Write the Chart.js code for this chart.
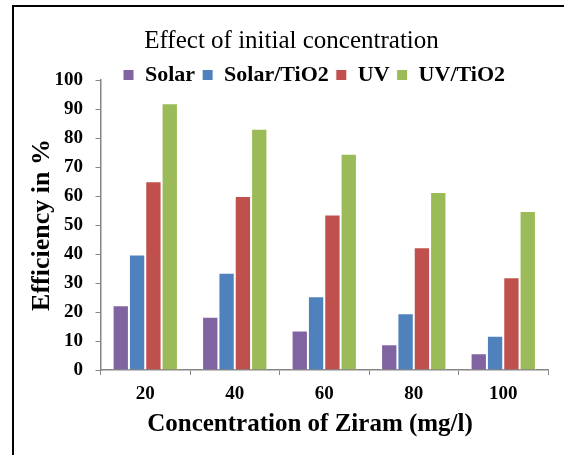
<!DOCTYPE html>
<html>
<head>
<meta charset="utf-8">
<script src="https://cdn.jsdelivr.net/npm/chart.js@4/dist/chart.umd.min.js"></script>
<style>
  html, body { margin: 0; padding: 0; background: #fff; overflow: hidden; }
  #myChart { display: block; }
</style>
</head>
<body>
<canvas id="myChart" width="564" height="455"></canvas>
<script>
// concentration of ziram (mg/l)
const categories = ["20", "40", "60", "80", "100"];
// efficiency in %
const solar = [22.3, 18.4, 13.6, 8.9, 5.8];
const solarTiO2 = [39.8, 33.5, 25.4, 19.6, 11.8];
const uv = [65.1, 60.0, 53.6, 42.3, 32.0];
const uvTiO2 = [92.0, 83.2, 74.6, 61.4, 54.8];

const serif = "'Liberation Serif', 'Times New Roman', serif";
const axisGrey = "#868686";

// move title, legend and x title where the reference has them
const placeHeader = {
    id: "placeHeader",
    afterLayout(chart) {
        const t = chart.titleBlock;
        const th = t.bottom - t.top;
        t.left = 19;
        t.right = 564;
        t.top = 41.5 - th / 2;
        t.bottom = t.top + th;

        const lg = chart.legend;
        const pad = lg.options.labels.padding;
        const fs = lg.options.labels.font.size;
        const lh = lg.bottom - lg.top;
        lg.left = 123 - pad;
        lg.right = 564;
        lg.top = 75 - pad - fs / 2;
        lg.bottom = lg.top + lh;

        // x title sits a bit left of the axis centre
        const xs = chart.scales.x;
        xs.drawTitle = function () {
            const l = this.left;
            this.left = 2 * 310 - this.right;
            Object.getPrototypeOf(this).drawTitle.call(this);
            this.left = l;
        };
    },
    // outer frame, only its left and top edges are in view
    beforeDraw(chart) {
        const c = chart.ctx;
        c.save();
        c.strokeStyle = "#000";
        c.lineWidth = 2;
        c.beginPath();
        c.moveTo(13, chart.height);
        c.lineTo(13, 6);
        c.lineTo(chart.width, 6);
        c.stroke();
        c.restore();
    },
};

(function () {
    const ctx = document.getElementById("myChart");
    new Chart(ctx, {
        type: "bar",
        data: {
            labels: categories,
            datasets: [
                { label: "Solar", data: solar, backgroundColor: "#8064A2" },
                { label: "Solar/TiO2", data: solarTiO2, backgroundColor: "#4F81BD" },
                { label: "UV", data: uv, backgroundColor: "#C0504D" },
                { label: "UV/TiO2", data: uvTiO2, backgroundColor: "#9BBB59" },
            ].map((d) => ({
                ...d,
                borderColor: "#ffffff",
                borderWidth: 1,
                categoryPercentage: 0.73,
                barPercentage: 1.0,
            })),
        },
        plugins: [placeHeader],
        options: {
            responsive: false,
            animation: false,
            layout: {
                padding: { left: 19, right: 16, top: 11, bottom: 0 },
            },
            plugins: {
                tooltip: { enabled: false },
                title: {
                    display: true,
                    text: "Effect of initial concentration",
                    color: "#000",
                    font: { family: serif, size: 25, weight: "normal" },
                    padding: 0,
                },
                legend: {
                    position: "top",
                    align: "start",
                    labels: {
                        color: "#000",
                        font: { family: serif, size: 22, weight: "bold" },
                        boxWidth: 11,
                        boxHeight: 11,
                        padding: 7,
                    },
                },
            },
            scales: {
                x: {
                    grid: {
                        drawOnChartArea: false,
                        drawTicks: true,
                        tickLength: 5,
                        color: axisGrey,
                    },
                    border: { color: axisGrey, width: 1.5 },
                    ticks: {
                        color: "#000",
                        font: { family: serif, size: 19, weight: "bold" },
                        padding: 7.6,
                    },
                    title: {
                        display: true,
                        text: "Concentration of Ziram (mg/l)",
                        color: "#000",
                        font: { family: serif, size: 25, weight: "bold" },
                        padding: { top: 0, bottom: 15 },
                    },
                    afterFit(scale) {
                        scale.height = 85;
                    },
                },
                y: {
                    min: 0,
                    max: 100,
                    grid: {
                        drawOnChartArea: false,
                        drawTicks: true,
                        tickLength: 5,
                        color: axisGrey,
                    },
                    border: { color: axisGrey, width: 1.5 },
                    ticks: {
                        stepSize: 10,
                        color: "#000",
                        font: { family: serif, size: 19, weight: "bold" },
                        padding: 12.5,
                    },
                    title: {
                        display: true,
                        text: "Efficiency in %",
                        color: "#000",
                        font: { family: serif, size: 26, weight: "bold" },
                        padding: { top: 7.4, bottom: 0 },
                    },
                    afterFit(scale) {
                        scale.width = 81.5;
                    },
                },
            },
        },
    });
})();
</script>
</body>
</html>
